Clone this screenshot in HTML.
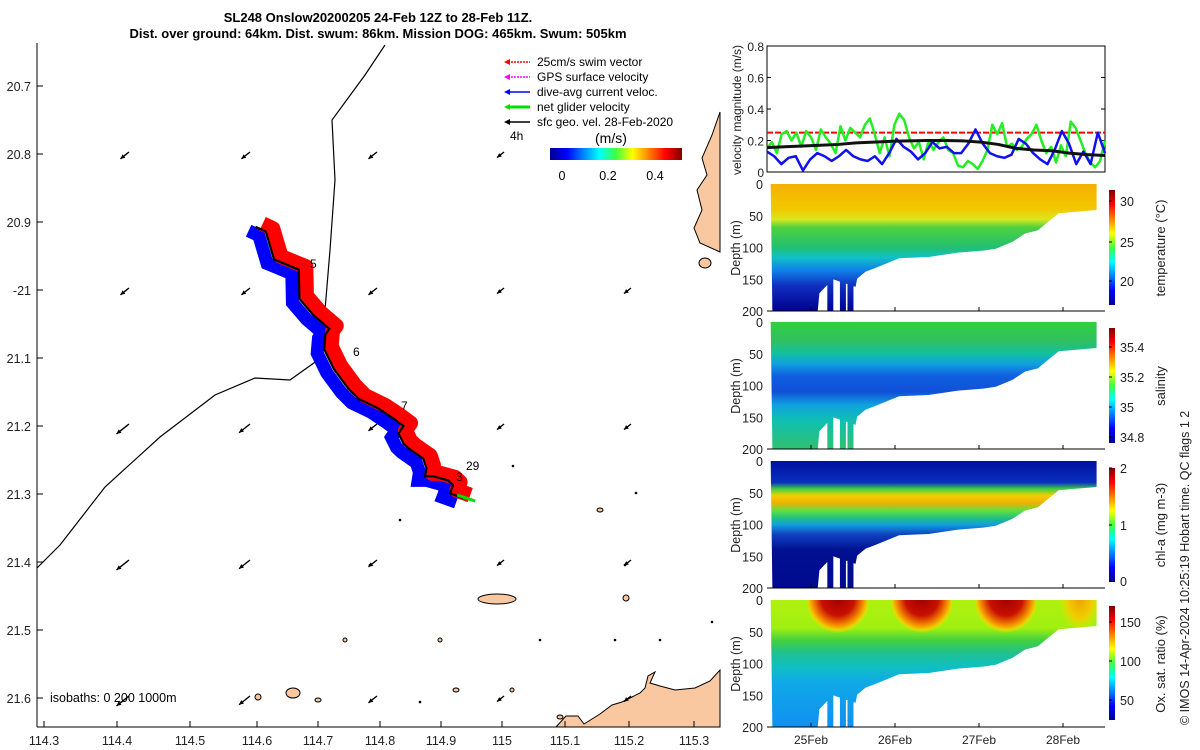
<!DOCTYPE html>
<html><head><meta charset="utf-8"><style>
html,body{margin:0;padding:0;background:#fff;}
svg{display:block;font-family:"Liberation Sans","DejaVu Sans",sans-serif;}
</style></head><body>
<svg id="fig" width="1200" height="750" viewBox="0 0 1200 750" xmlns="http://www.w3.org/2000/svg">
<defs>
<linearGradient id="jetH" x1="0" x2="1" y1="0" y2="0">
<stop offset="0" stop-color="#00008f"/><stop offset="0.125" stop-color="#0000ff"/><stop offset="0.375" stop-color="#00ffff"/><stop offset="0.5" stop-color="#40ff40"/><stop offset="0.625" stop-color="#ffff00"/><stop offset="0.875" stop-color="#ff0000"/><stop offset="1" stop-color="#800000"/>
</linearGradient>
<linearGradient id="jetV" x1="0" x2="0" y1="1" y2="0">
<stop offset="0" stop-color="#00008f"/><stop offset="0.125" stop-color="#0000ff"/><stop offset="0.375" stop-color="#00ffff"/><stop offset="0.5" stop-color="#40ff40"/><stop offset="0.625" stop-color="#ffff00"/><stop offset="0.875" stop-color="#ff0000"/><stop offset="1" stop-color="#800000"/>
</linearGradient>
<radialGradient id="oxBlob" cx="0.5" cy="0.35" r="0.55">
<stop offset="0" stop-color="#a00000"/><stop offset="0.5" stop-color="#c81000"/><stop offset="0.75" stop-color="#f08000"/><stop offset="0.9" stop-color="#f0d000"/><stop offset="1" stop-color="#c8f000" stop-opacity="0"/>
</radialGradient>
<radialGradient id="oxBlob2" cx="0.5" cy="0.35" r="0.55">
<stop offset="0" stop-color="#f0a000"/><stop offset="0.6" stop-color="#f0d000"/><stop offset="1" stop-color="#c8f000" stop-opacity="0"/>
</radialGradient>
</defs>
<g id="map"></g>
<g id="right"></g>
</svg>
<script>
// ---------- DATA ----------
const velGreen=[0.15,0.19,0.12,0.24,0.26,0.20,0.25,0.16,0.26,0.22,0.14,0.27,0.22,0.18,0.12,0.29,0.20,0.28,0.25,0.22,0.30,0.34,0.24,0.12,0.22,0.10,0.30,0.37,0.33,0.22,0.15,0.19,0.08,0.20,0.14,0.19,0.22,0.14,0.12,0.04,0.03,0.07,0.05,0.02,0.07,0.14,0.30,0.24,0.31,0.16,0.18,0.14,0.16,0.21,0.24,0.30,0.20,0.12,0.16,0.06,0.17,0.10,0.32,0.28,0.20,0.12,0.06,0.03,0.07,0.20];
const velBlue=[0.13,0.10,0.05,0.09,0.10,0.01,0.08,0.12,0.10,0.07,0.10,0.14,0.10,0.08,0.07,0.10,0.05,0.12,0.21,0.16,0.13,0.08,0.12,0.19,0.15,0.16,0.12,0.12,0.18,0.27,0.18,0.12,0.10,0.09,0.11,0.21,0.18,0.12,0.08,0.05,0.14,0.26,0.18,0.05,0.13,0.05,0.25,0.12];
const velBlack=[0.155,0.16,0.165,0.17,0.175,0.185,0.19,0.195,0.198,0.20,0.20,0.198,0.19,0.175,0.15,0.14,0.135,0.12,0.11,0.105];
const swimSpeed=0.25;
const velTicks=[0,0.2,0.4,0.6,0.8];
// bottom-of-profile (days since 24-Feb 00Z, depth m)
const profDay=[0.54,1.08,1.10,1.20,1.26,1.53,1.55,1.65,1.75,1.9,2.05,2.4,2.75,3.05,3.2,3.4,3.55,3.7,3.8,3.95,4.4];
const profDepth=[200,200,172,158,150,162,149,138,133,125,117,115,108,105,102,91,78,73,62,46,41];
const dateTicks=["25Feb","26Feb","27Feb","28Feb"];
const dateDays=[1,2,3,4];
const depthTicks=[0,50,100,150,200];
const oxPeaks=[1.32,2.32,3.32,4.2];
// map (lon, lat)
const trackLon=[114.612,114.628,114.641,114.672,114.680,114.681,114.703,114.728,114.722,114.720,114.735,114.758,114.774,114.805,114.829,114.845,114.837,114.845,114.853,114.876,114.881,114.879,114.892,114.915,114.923,114.918,114.939];
const trackLat=[20.907,20.914,20.955,20.967,20.970,21.013,21.037,21.057,21.065,21.087,21.116,21.145,21.160,21.174,21.189,21.200,21.211,21.226,21.233,21.248,21.262,21.274,21.274,21.280,21.287,21.299,21.306];
const arrowLon=[114.4,114.6,114.8,115.0,115.2];
const arrowLat=[20.8,21.0,21.2,21.4,21.6];
const lonTicks=[114.3,114.4,114.5,114.6,114.7,114.8,114.9,115,115.1,115.2,115.3];
const lonTickX=[44,117,190,257,318,380,441,502,565,629,694];
const latTicks=["20.7","20.8","20.9","-21","21.1","21.2","21.3","21.4","21.5","21.6"];

// ---------- helpers ----------
const NS="http://www.w3.org/2000/svg";
function mk(tag,attrs,parent,txt){const e=document.createElementNS(NS,tag);for(const k in attrs)e.setAttribute(k,attrs[k]);if(txt!==undefined)e.textContent=txt;parent.appendChild(e);return e;}
const map=document.getElementById('map'), right=document.getElementById('right'), fig=document.getElementById('fig');

// ---------- titles ----------
let t1=mk('text',{x:378,y:22,'text-anchor':'middle','font-size':13,'font-weight':'bold'},fig,'SL248 Onslow20200205 24-Feb 12Z to 28-Feb 11Z.');


let t2=mk('text',{x:378,y:38,'text-anchor':'middle','font-size':13,'font-weight':'bold'},fig,'Dist. over ground: 64km. Dist. swum: 86km. Mission DOG: 465km. Swum: 505km');



// ---------- MAP ----------
const lonX=l=>502+(l-115)*635;
const latY=l=>86+(l-20.7)*680;
mk('rect',{x:37,y:43,width:683,height:684,fill:'#fff'},map);
let coast=mk('polyline',{points:'385,45 365,75 332,120 335,180 330,250 325,310 322,330 318,360 290,380 255,378 215,395 160,437 105,487 60,545 37,568',fill:'none',stroke:'#000','stroke-width':1.2},map);


const landStyle={fill:'#fac8a0',stroke:'#000','stroke-width':1};
let land1=mk('polygon',Object.assign({points:'556,727 566,716 578,716 584,724 600,714 612,705 622,702 632,697 640,693 645,688 648,676 655,672 650,683 660,686 675,690 695,688 710,681 720,670 720,727'},landStyle),map);


let land2=mk('polygon',Object.assign({points:'720,112 712,135 702,158 707,175 697,190 702,210 694,228 700,243 720,252'},landStyle),map);


mk('ellipse',Object.assign({cx:705,cy:263,rx:6,ry:5},landStyle),map);
let isl=mk('ellipse',Object.assign({cx:497,cy:599,rx:19,ry:5},landStyle),map);


[[293,693,7,5],[258,697,3,3],[456,690,3,2],[600,510,3,2],[318,700,3,2],[512,690,2,2],[626,598,3,3],[440,640,2,2],[345,640,2,2],[560,717,3,2]].forEach(d=>mk('ellipse',Object.assign({cx:d[0],cy:d[1],rx:d[2],ry:d[3]},landStyle),map));
[[636,493],[513,466],[400,520],[420,702],[540,640],[615,640],[660,640],[712,622],[370,565],[625,565]].forEach(p=>mk('circle',{cx:p[0],cy:p[1],r:1.3,fill:'#000'},map));
// current arrows
arrowLat.forEach((la,j)=>arrowLon.forEach((lo,i)=>{
  let len=11; if(i===0&&j>=2) len=16; if(i===1&&j>=2) len=14; if(i>=3) len=9;
  const x=lonX(lo)+ (i===0?8:2), y=latY(la)-2;
  const g=mk('g',{},map);
  
  
  const dx=-len*0.78, dy=len*0.62;
  mk('line',{x1:x,y1:y,x2:x+dx,y2:y+dy,stroke:'#000','stroke-width':1.4},g);
  const ang=Math.atan2(dy,dx);
  const hx=x+dx,hy=y+dy;
  mk('polygon',{points:`${hx},${hy} ${hx-5*Math.cos(ang-0.45)},${hy-5*Math.sin(ang-0.45)} ${hx-5*Math.cos(ang+0.45)},${hy-5*Math.sin(ang+0.45)}`,fill:'#000'},g);
}));
// track
const trk=trackLon.map((l,i)=>[lonX(l),latY(trackLat[i])]);
const pts=(ox,oy)=>trk.map(p=>(p[0]+ox)+','+(p[1]+oy)).join(' ');
let tb=mk('polyline',{points:pts(-7,4),fill:'none',stroke:'#0000ff','stroke-width':13,'stroke-linejoin':'miter'},map);


let tr=mk('polyline',{points:pts(7,-3),fill:'none',stroke:'#ff0000','stroke-width':15,'stroke-linejoin':'round'},map);


let tk=mk('polyline',{points:pts(0,0),fill:'none',stroke:'#000','stroke-width':2.2},map);


const lst=trk[trk.length-1];
mk('line',{x1:lst[0]-6,y1:lst[1]-3,x2:lst[0]+12,y2:lst[1]+3,stroke:'#00e000','stroke-width':3},map);
[['5',310,268],['6',353,356],['7',401,410],['29',466,470],['3',456,481]].forEach(a=>mk('text',{x:a[1],y:a[2],'font-size':12},map,a[0]));
mk('line',{x1:37,y1:43,x2:37,y2:727,stroke:'#000','stroke-width':1},map);
mk('line',{x1:37,y1:727,x2:720,y2:727,stroke:'#000','stroke-width':1},map);
lonTicks.forEach((v,i)=>{
  mk('line',{x1:lonTickX[i],y1:727,x2:lonTickX[i],y2:721,stroke:'#000'},map);
  const t=mk('text',{x:lonTickX[i],y:745,'text-anchor':'middle','font-size':12.5,fill:'#222'},map,String(v));
  
  
});
latTicks.forEach((v,i)=>{
  const y=latY(20.7+0.1*i);
  mk('line',{x1:37,y1:y,x2:43,y2:y,stroke:'#000'},map);
  const t=mk('text',{x:31,y:y+5,'text-anchor':'end','font-size':12.5,fill:'#222'},map,v);
  
  
});
mk('text',{x:50,y:702,'font-size':12.5,'xml:space':'preserve'},map,'isobaths: 0   200  1000m');
const leg=mk('g',{},map);


[['#ff0000','25cm/s swim vector'],['#ff00ff','GPS surface velocity'],['#0000ff','dive-avg current veloc.'],['#00e000','net glider velocity'],['#000','sfc geo. vel. 28-Feb-2020']].forEach((e,i)=>{
  const y=62+i*15;
  mk('line',{x1:508,y1:y,x2:530,y2:y,stroke:e[0],'stroke-width':i===3?3:1.5,'stroke-dasharray':i<2?'2 1':''},leg);
  mk('polygon',{points:`504,${y} 510,${y-3} 510,${y+3}`,fill:e[0]},leg);
  mk('text',{x:537,y:y+4,'font-size':12},leg,e[1]);
});
mk('text',{x:510,y:140,'font-size':12},leg,'4h');
mk('text',{x:595,y:143,'font-size':14},leg,'(m/s)');
let cb=mk('rect',{x:550,y:148,width:132,height:12,fill:'url(#jetH)'},leg);


[['0',562],['0.2',608],['0.4',655]].forEach(a=>mk('text',{x:a[1],y:180,'text-anchor':'middle','font-size':12.5},leg,a[0]));

// ---------- VELOCITY PANEL ----------
const vx0=767,vx1=1105,vy0=172,vy1=46;
const vY=v=>vy0+(vy1-vy0)*v/0.8;
const vX=(i,n)=>vx0+(vx1-vx0)*i/(n-1);
let vbox=mk('rect',{x:vx0,y:vy1,width:vx1-vx0,height:vy0-vy1,fill:'#fff',stroke:'#000','stroke-width':1},right);


velTicks.forEach(v=>{
  mk('line',{x1:vx0,y1:vY(v),x2:vx0+4,y2:vY(v),stroke:'#000'},right);
  mk('line',{x1:vx1,y1:vY(v),x2:vx1-4,y2:vY(v),stroke:'#000'},right);
  mk('text',{x:764,y:vY(v)+5,'text-anchor':'end','font-size':12,fill:'#222'},right,String(v));
});
let rl=mk('line',{x1:vx0,y1:vY(swimSpeed),x2:vx1,y2:vY(swimSpeed),stroke:'#ff0000','stroke-width':2,'stroke-dasharray':'6 2'},right);


function series(arr,col,w,name){
  const p=mk('polyline',{points:arr.map((v,i)=>vX(i,arr.length)+','+vY(v)).join(' '),fill:'none',stroke:col,'stroke-width':w,'stroke-linejoin':'round'},right);
  
  
}
series(velGreen,'#22ee22',2.5,'net-glider-velocity-line');
series(velBlue,'#1111ee',2.5,'dive-avg-current-line');
series(velBlack,'#111',3,'geostrophic-velocity-line');
let vl=mk('text',{transform:'translate(741,110) rotate(-90)','text-anchor':'middle','font-size':12,fill:'#222'},right,'velocity magnitude (m/s)');



// ---------- SECTION PANELS ----------
const dayX=d=>811+(d-1)*84;
const panels=[
 {top:184,name:'temperature',label:'temperature (°C)',stops:[[0,'#f5b000'],[0.2,'#f2c800'],[0.28,'#d8e820'],[0.34,'#50d040'],[0.5,'#20c070'],[0.58,'#10c0c8'],[0.68,'#1080e8'],[0.8,'#1030c0'],[1,'#000090']],cbT:[[30,201],[25,242],[20,281]],cb:[190,305]},
 {top:322,name:'salinity',label:'salinity',stops:[[0,'#30d040'],[0.15,'#30c060'],[0.25,'#10c0a0'],[0.33,'#10a0e0'],[0.42,'#1060e0'],[0.55,'#1050d8'],[0.65,'#10a0e0'],[0.78,'#10c0b0'],[1,'#30c070']],cbT:[[35.4,347],[35.2,377],[35,407],[34.8,437]],cb:[328,443]},
 {top:461,name:'chlorophyll',label:'chl-a (mg m-3)',stops:[[0,'#0010a0'],[0.17,'#0830c0'],[0.22,'#40d040'],[0.27,'#f0d000'],[0.33,'#f0b000'],[0.39,'#60e040'],[0.45,'#20c080'],[0.5,'#10a0e0'],[0.58,'#1040c0'],[0.7,'#001090'],[1,'#000a90']],cbT:[[2,468],[1,525],[0,581]],cb:[468,582]},
 {top:600,name:'oxygen',label:'Ox. sat. ratio (%)',stops:[[0,'#b0f010'],[0.22,'#a0f010'],[0.32,'#40d040'],[0.42,'#20c090'],[0.52,'#10c0c0'],[0.65,'#10a8e8'],[1,'#1090f0']],cbT:[[150,622],[100,661],[50,700]],cb:[606,720]}
];
panels.forEach((P,k)=>{
  const top=P.top, bot=top+127;
  const dY=d=>top+d/200*127;
  const g=mk('g',{},right);
  
  
  const gid='grad'+k;
  const lg=mk('linearGradient',{id:gid,x1:0,x2:0,y1:top,y2:bot,gradientUnits:'userSpaceOnUse'},g);
  P.stops.forEach(s=>mk('stop',{offset:s[0],'stop-color':s[1]},lg));
  let pp=[[dayX(0.52),dY(0)],[dayX(4.4),dY(0)]];
  for(let i=profDay.length-1;i>=0;i--) pp.push([Math.min(dayX(profDay[i]),1105),dY(profDepth[i])]);
  const cid='clip'+k;
  const cp=mk('clipPath',{id:cid},g);
  mk('polygon',{points:pp.map(p=>p.join(',')).join(' ')},cp);
  [1.23,1.38,1.47].forEach(d=>mk('rect',{x:dayX(d)-3,y:dY(140),width:6,height:dY(200)-dY(140)},cp));
  const dg=mk('g',{'clip-path':`url(#${cid})`},g);
  mk('rect',{x:767,y:top,width:338,height:127,fill:`url(#${gid})`},dg);
  if(P.name==='oxygen'){
    oxPeaks.forEach((d,i)=>{
      const b=mk('ellipse',{cx:dayX(d),cy:dY(12),rx:i===3?20:30,ry:dY(50)-dY(0),fill:i===3?'url(#oxBlob2)':'url(#oxBlob)'},dg);
      
      
    });
  }
  mk('line',{x1:767,y1:bot,x2:1105,y2:bot,stroke:'#000'},g);
  depthTicks.forEach(d=>mk('text',{x:763,y:dY(d)+5,'text-anchor':'end','font-size':12.5,fill:'#222'},g,String(d)));
  const yl=mk('text',{transform:`translate(740,${top+64}) rotate(-90)`,'text-anchor':'middle','font-size':12.5,fill:'#222'},g,'Depth (m)');
  
  
  dateDays.forEach(d=>mk('line',{x1:dayX(d),y1:bot,x2:dayX(d),y2:bot-4,stroke:'#000'},g));
  const c=mk('rect',{x:1109,y:P.cb[0],width:6,height:P.cb[1]-P.cb[0],fill:'url(#jetV)'},g);
  
  
  P.cbT.forEach(t=>{mk('line',{x1:1109,y1:t[1],x2:1112,y2:t[1],stroke:'#000'},g);mk('text',{x:1120,y:t[1]+5,'font-size':12.5,fill:'#222'},g,String(t[0]));});
  const cl=mk('text',{transform:`translate(1165,${top+64}) rotate(-90)`,'text-anchor':'middle','font-size':13,fill:'#222'},g,P.label);
  
  
});
dateTicks.forEach((t,i)=>{
  const e=mk('text',{x:dayX(dateDays[i]),y:744,'text-anchor':'middle','font-size':12,fill:'#222'},right,t);
  
  
});
let cr=mk('text',{transform:'translate(1189,725) rotate(-90)','font-size':12.5,fill:'#222','xml:space':'preserve'},right,'© IMOS 14-Apr-2024 10:25:19 Hobart time. QC flags 1  2');


</script>
</body></html>
